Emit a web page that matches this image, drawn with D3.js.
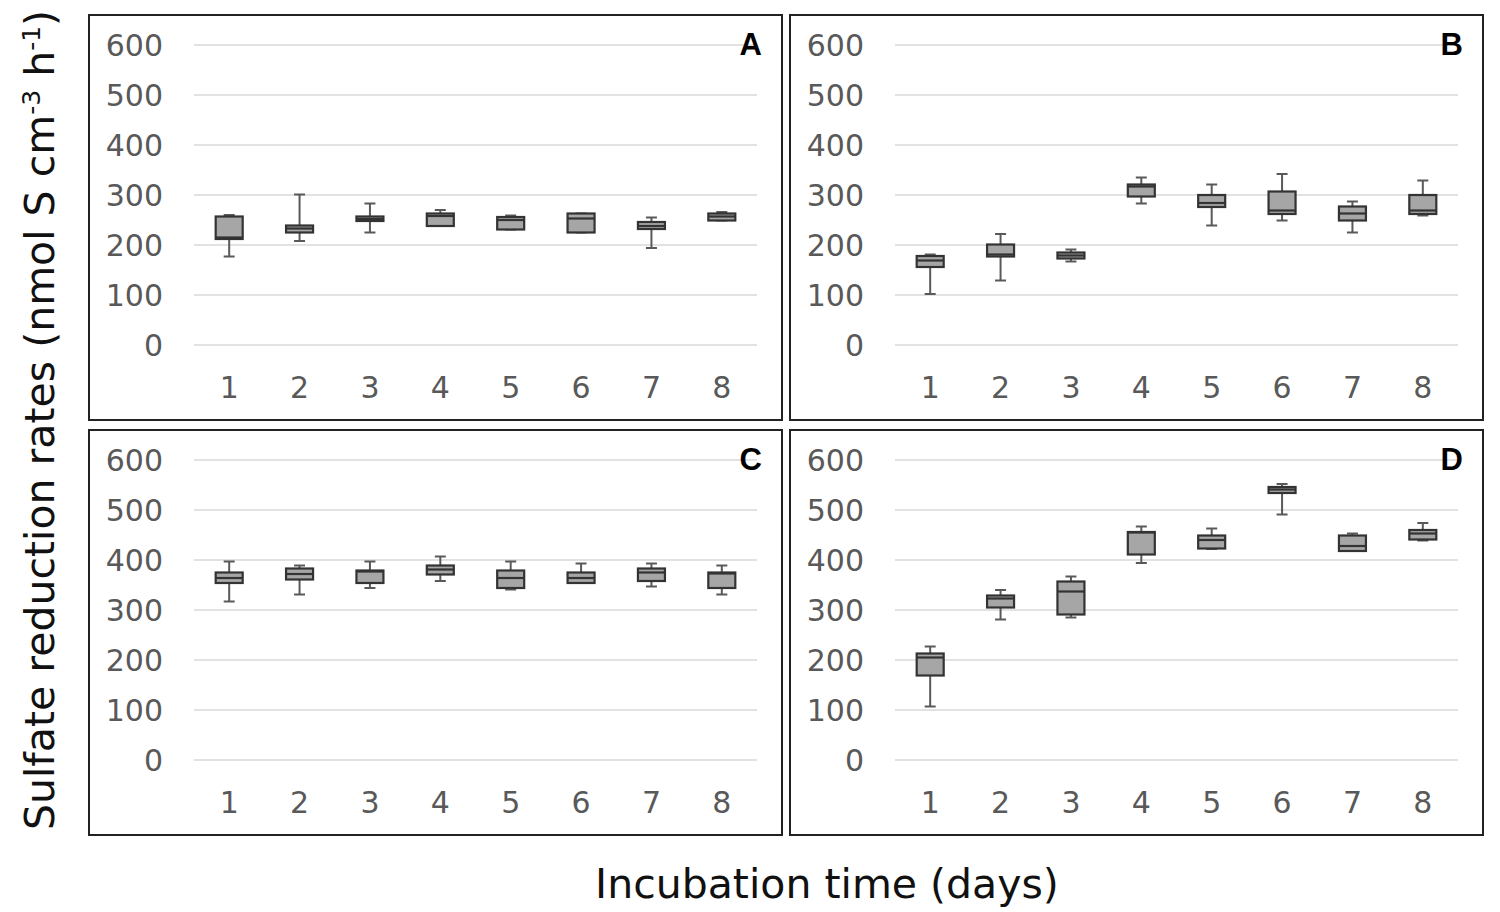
<!DOCTYPE html>
<html>
<head>
<meta charset="utf-8">
<script src="https://cdn.jsdelivr.net/npm/d3@7"></script>
<style>
  body { margin: 0; background: #fff; }
  text { font-family: "DejaVu Sans", Verdana, sans-serif; }
</style>
</head>
<body>
<script>
// Incubation days and y ticks
const days = [1, 2, 3, 4, 5, 6, 7, 8];
const yTicks = [0, 100, 200, 300, 400, 500, 600];
const panelLabels = ["A", "B", "C", "D"];

// Box statistics per panel, one entry per day: [min, q1, median, q3, max]
const boxesA = [
  [177, 212, 215, 257, 260], [208, 225, 233, 239, 301], [225, 248, 252, 257, 283],
  [238, 238, 258, 263, 270], [231, 231, 250, 256, 259], [225, 225, 253, 263, 263],
  [194, 232, 238, 246, 255], [249, 249, 257, 263, 266]
];
const boxesB = [
  [102, 156, 169, 178, 181], [129, 177, 181, 201, 222], [167, 173, 179, 185, 191],
  [283, 297, 317, 321, 335], [239, 276, 284, 300, 321], [249, 262, 269, 307, 342],
  [225, 249, 263, 277, 287], [259, 262, 269, 300, 329]
];
const boxesC = [
  [317, 354, 364, 375, 397], [331, 361, 372, 383, 389], [344, 354, 377, 379, 397],
  [358, 371, 381, 389, 407], [341, 344, 364, 379, 397], [354, 354, 364, 375, 393],
  [347, 358, 375, 383, 393], [331, 344, 373, 375, 389]
];
const boxesD = [
  [107, 169, 205, 213, 227], [281, 305, 323, 329, 340], [285, 291, 337, 357, 367],
  [394, 411, 455, 456, 467], [422, 423, 440, 449, 463], [491, 534, 541, 546, 552],
  [418, 418, 428, 449, 453], [439, 441, 453, 460, 474]
];
const panelData = [boxesA, boxesB, boxesC, boxesD];

const W = 1500, H = 912;
const panelW = 693, panelH = 405;
const panelPos = [[89, 15], [790, 15], [89, 430], [790, 430]];

const svg = d3.select("body").append("svg")
    .attr("width", W)
    .attr("height", H)
    .attr("viewBox", [0, 0, W, H]);

// Scales shared by all panels (panel-local coordinates)
const x = d3.scaleBand().domain(days).range([105, 668]);
const y = d3.scaleLinear().domain([0, 600]).range([330, 30]);
const boxW = 27, capW = 11;

panelData.forEach((boxes, i) => {
    const g = svg.append("g")
        .attr("transform", "translate(" + panelPos[i][0] + "," + panelPos[i][1] + ")");

    // Frame
    g.append("rect")
        .attr("x", 0).attr("y", 0)
        .attr("width", panelW).attr("height", panelH)
        .attr("fill", "none")
        .attr("stroke", "#222")
        .attr("stroke-width", 2);

    // Gridlines
    g.selectAll("line.grid")
        .data(yTicks)
        .enter().append("line")
        .attr("class", "grid")
        .attr("x1", x.range()[0]).attr("x2", x.range()[1])
        .attr("y1", d => y(d)).attr("y2", d => y(d))
        .attr("stroke", "#d9d9d9")
        .attr("stroke-width", 1.5);

    // Y tick labels
    g.selectAll("text.ytick")
        .data(yTicks)
        .enter().append("text")
        .attr("class", "ytick")
        .attr("x", 74)
        .attr("y", d => y(d))
        .attr("dy", "0.36em")
        .attr("text-anchor", "end")
        .attr("fill", "#595959")
        .style("font-size", "30px")
        .text(d => d);

    // X tick labels
    g.selectAll("text.xtick")
        .data(days)
        .enter().append("text")
        .attr("class", "xtick")
        .attr("x", d => x(d) + x.bandwidth() / 2)
        .attr("y", 383)
        .attr("text-anchor", "middle")
        .attr("fill", "#595959")
        .style("font-size", "30px")
        .text(d => d);

    // Panel letter
    g.append("text")
        .attr("x", 673)
        .attr("y", 40)
        .attr("text-anchor", "end")
        .attr("fill", "#000")
        .style("font-family", "Liberation Sans, Arial, sans-serif")
        .style("font-weight", "bold")
        .style("font-size", "31px")
        .text(panelLabels[i]);

    // Boxes
    const bx = g.selectAll("g.box")
        .data(boxes.map((b, j) => ({ day: days[j], min: b[0], q1: b[1], med: b[2], q3: b[3], max: b[4] })))
        .enter().append("g")
        .attr("class", "box")
        .attr("transform", d => "translate(" + (x(d.day) + x.bandwidth() / 2) + ",0)");

    bx.append("line")
        .attr("x1", 0).attr("x2", 0)
        .attr("y1", d => y(d.max)).attr("y2", d => y(d.q3))
        .attr("stroke", "#595959").attr("stroke-width", 2);
    bx.append("line")
        .attr("x1", 0).attr("x2", 0)
        .attr("y1", d => y(d.q1)).attr("y2", d => y(d.min))
        .attr("stroke", "#595959").attr("stroke-width", 2);
    bx.append("line")
        .attr("x1", -capW / 2).attr("x2", capW / 2)
        .attr("y1", d => y(d.max)).attr("y2", d => y(d.max))
        .attr("stroke", "#595959").attr("stroke-width", 2);
    bx.append("line")
        .attr("x1", -capW / 2).attr("x2", capW / 2)
        .attr("y1", d => y(d.min)).attr("y2", d => y(d.min))
        .attr("stroke", "#595959").attr("stroke-width", 2);

    bx.append("rect")
        .attr("x", -boxW / 2)
        .attr("y", d => y(d.q3))
        .attr("width", boxW)
        .attr("height", d => Math.max(2, y(d.q1) - y(d.q3)))
        .attr("fill", "#a6a6a6")
        .attr("stroke", "#333")
        .attr("stroke-width", 2.2);

    bx.append("line")
        .attr("x1", -boxW / 2).attr("x2", boxW / 2)
        .attr("y1", d => y(d.med)).attr("y2", d => y(d.med))
        .attr("stroke", "#333").attr("stroke-width", 2.2);
});

// Axis titles
const yTitle = svg.append("text")
    .attr("transform", "translate(54,420) rotate(-90)")
    .attr("text-anchor", "middle")
    .attr("fill", "#111")
    .style("font-size", "41px");
yTitle.append("tspan").text("Sulfate reduction rates (nmol S cm");
yTitle.append("tspan").attr("baseline-shift", "super").style("font-size", "25px").text("-3");
yTitle.append("tspan").text(" h");
yTitle.append("tspan").attr("baseline-shift", "super").style("font-size", "25px").text("-1");
yTitle.append("tspan").text(")");

svg.append("text")
    .attr("x", 827)
    .attr("y", 898)
    .attr("text-anchor", "middle")
    .attr("fill", "#111")
    .style("font-size", "41px")
    .text("Incubation time (days)");
</script>
</body>
</html>
